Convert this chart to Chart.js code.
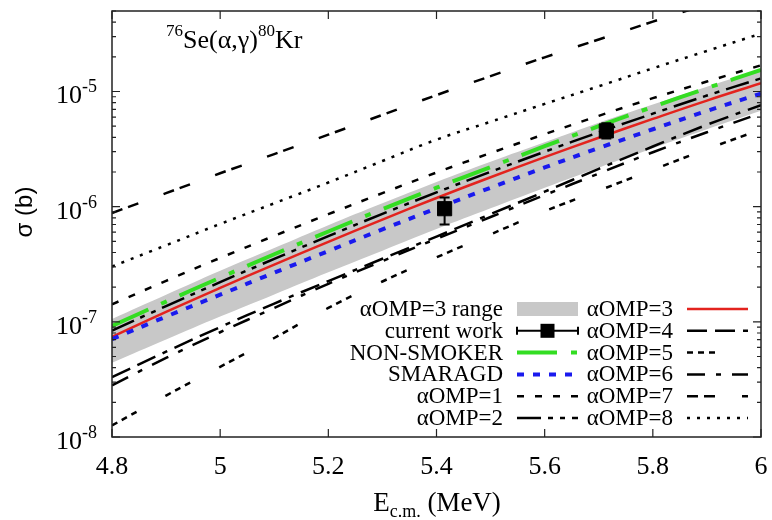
<!DOCTYPE html>
<html>
<head>
<meta charset="utf-8">
<script src="https://cdn.jsdelivr.net/npm/chart.js@4.4.0/dist/chart.umd.min.js"></script>
<style>
  html, body { margin: 0; padding: 0; background: #fff; }
  #wrap { width: 772px; height: 520px; position: relative; }
</style>
</head>
<body>
<div id="wrap"><canvas id="chart"></canvas></div>
<script>
// energies (MeV, c.m.) on which the calculated curves are read
const energies = [4.8, 4.9, 5.0, 5.1, 5.2, 5.3, 5.4, 5.5, 5.6, 5.7, 5.8, 5.9, 6.0];

// cross sections (b)
const omp1 = [1.42e-7, 2.27e-7, 3.59e-7, 5.58e-7, 8.60e-7, 1.31e-6, 1.98e-6, 2.92e-6, 4.26e-6, 6.15e-6, 8.75e-6, 1.22e-5, 1.69e-5];
const omp2 = [8.4e-8, 1.37e-7, 2.21e-7, 3.52e-7, 5.55e-7, 8.66e-7, 1.33e-6, 2.01e-6, 3.00e-6, 4.42e-6, 6.42e-6, 9.22e-6, 1.30e-5];
const omp3 = [7.40e-8, 1.22e-7, 1.97e-7, 3.14e-7, 4.95e-7, 7.73e-7, 1.19e-6, 1.80e-6, 2.69e-6, 3.97e-6, 5.78e-6, 8.34e-6, 1.18e-5];
const omp4 = [3.31e-8, 5.51e-8, 9.0e-8, 1.44e-7, 2.26e-7, 3.53e-7, 5.50e-7, 8.61e-7, 1.35e-6, 2.13e-6, 3.33e-6, 5.14e-6, 7.62e-6];
const omp5 = [1.26e-8, 2.29e-8, 4.07e-8, 7.24e-8, 1.32e-7, 2.24e-7, 3.63e-7, 5.75e-7, 9.12e-7, 1.38e-6, 2.09e-6, 3.16e-6, 4.68e-6];
const omp6 = [2.81e-8, 4.86e-8, 8.12e-8, 1.32e-7, 2.14e-7, 3.37e-7, 5.26e-7, 8.13e-7, 1.26e-6, 1.94e-6, 2.97e-6, 4.43e-6, 6.48e-6];
const omp7 = [8.81e-7, 1.31e-6, 1.95e-6, 2.86e-6, 4.22e-6, 6.27e-6, 9.31e-6, 1.36e-5, 1.98e-5, 2.83e-5, 4.04e-5, 5.71e-5, 8.07e-5];
const omp8 = [3.02e-7, 4.62e-7, 7.08e-7, 1.07e-6, 1.62e-6, 2.49e-6, 3.82e-6, 5.46e-6, 7.80e-6, 1.11e-5, 1.59e-5, 2.25e-5, 3.18e-5];
const nonSmoker = [9.21e-8, 1.50e-7, 2.42e-7, 3.86e-7, 6.09e-7, 9.51e-7, 1.46e-6, 2.21e-6, 3.35e-6, 5.00e-6, 7.36e-6, 1.07e-5, 1.54e-5];
const smaragd = [7.07e-8, 1.11e-7, 1.72e-7, 2.67e-7, 4.12e-7, 6.35e-7, 9.67e-7, 1.46e-6, 2.19e-6, 3.23e-6, 4.70e-6, 6.78e-6, 9.59e-6];
const rangeHigh = [1.06e-7, 1.72e-7, 2.78e-7, 4.38e-7, 6.91e-7, 1.07e-6, 1.64e-6, 2.46e-6, 3.63e-6, 5.36e-6, 7.71e-6, 1.10e-5, 1.56e-5];
const rangeLow = [4.41e-8, 7.02e-8, 1.11e-7, 1.73e-7, 2.69e-7, 4.15e-7, 6.39e-7, 9.67e-7, 1.46e-6, 2.18e-6, 3.21e-6, 4.69e-6, 6.79e-6];

// measured points (current work)
const expEnergy = [5.415, 5.714];
const expSigma = [9.6e-7, 4.55e-6];
const expLow = [7.0e-7, 3.9e-6];
const expHigh = [1.2e-6, 5.3e-6];

// axes
const xTicks = [4.8, 5.0, 5.2, 5.4, 5.6, 5.8, 6.0];
const xTickLabels = ['4.8', '5', '5.2', '5.4', '5.6', '5.8', '6'];
const yDecades = [-8, -7, -6, -5];

const serif = '"Liberation Serif", "Times New Roman", serif';

function pts(ys) {
  return energies.map((e, i) => ({ x: e, y: ys[i] }));
}

function curve(label, ys, color, width, dash) {
  return {
    label: label,
    data: pts(ys),
    borderColor: color,
    borderWidth: width,
    borderDash: dash,
    pointRadius: 0,
    tension: 0.4,
    fill: false,
    clip: 0
  };
}

// legend rows: [text, kind, color, width, dash]
const legendLeft = [
  ['αOMP=3 range', 'band'],
  ['current work', 'point'],
  ['NON-SMOKER', 'line', '#33dd22', 4, [40, 14, 6, 14]],
  ['SMARAGD', 'line', '#1a1aee', 4, [7, 9]],
  ['αOMP=1', 'line', '#000', 2.5, [7, 11]],
  ['αOMP=2', 'line', '#000', 2.5, [24, 7, 5, 7, 5, 7]]
];
const legendRight = [
  ['αOMP=3', 'line', '#e3231e', 2.5, []],
  ['αOMP=4', 'line', '#000', 2.5, [20, 8, 20, 8, 5, 8]],
  ['αOMP=5', 'line', '#000', 2.5, [6, 5, 6, 5, 6, 33]],
  ['αOMP=6', 'line', '#000', 2.5, [18, 11, 5, 11]],
  ['αOMP=7', 'line', '#000', 2.5, [11, 6, 11, 27]],
  ['αOMP=8', 'line', '#000', 2.5, [3, 7]]
];

function drawSample(ctx, row, x0, x1, y) {
  ctx.save();
  if (row[1] === 'band') {
    ctx.fillStyle = '#c8c8c8';
    ctx.fillRect(x0, y - 7, x1 - x0, 14);
  } else if (row[1] === 'point') {
    ctx.strokeStyle = '#000';
    ctx.lineWidth = 2;
    ctx.beginPath();
    ctx.moveTo(x0, y); ctx.lineTo(x1, y);
    ctx.moveTo(x0, y - 4); ctx.lineTo(x0, y + 4);
    ctx.moveTo(x1, y - 4); ctx.lineTo(x1, y + 4);
    ctx.stroke();
    ctx.fillStyle = '#000';
    const m = (x0 + x1) / 2;
    ctx.fillRect(m - 7, y - 7, 14, 14);
  } else {
    ctx.strokeStyle = row[2];
    ctx.lineWidth = row[3];
    ctx.setLineDash(row[4]);
    ctx.beginPath();
    ctx.moveTo(x0, y); ctx.lineTo(x1, y);
    ctx.stroke();
  }
  ctx.restore();
}

const decorations = {
  id: 'decorations',
  afterDatasetsDraw(chart) {
    const ctx = chart.ctx;
    const xs = chart.scales.x, ys = chart.scales.y;
    // error bars
    ctx.save();
    ctx.strokeStyle = '#000';
    ctx.lineWidth = 2;
    expEnergy.forEach((e, i) => {
      const px = xs.getPixelForValue(e);
      const lo = ys.getPixelForValue(expLow[i]);
      const hi = ys.getPixelForValue(expHigh[i]);
      ctx.beginPath();
      ctx.moveTo(px, lo); ctx.lineTo(px, hi);
      ctx.moveTo(px - 5, lo); ctx.lineTo(px + 5, lo);
      ctx.moveTo(px - 5, hi); ctx.lineTo(px + 5, hi);
      ctx.stroke();
    });
    ctx.restore();
  },
  afterDraw(chart) {
    const ctx = chart.ctx;
    const a = chart.chartArea;
    const xs = chart.scales.x, ys = chart.scales.y;
    ctx.save();

    // legend (opaque box)
    ctx.fillStyle = '#fff';
    ctx.fillRect(356, 297, a.right - 357, a.bottom - 298);
    ctx.font = '23px ' + serif;
    ctx.fillStyle = '#000';
    ctx.textAlign = 'right';
    ctx.textBaseline = 'middle';
    legendLeft.forEach((row, i) => {
      const y = 309 + i * 21.8;
      ctx.fillText(row[0], 503, y + 1);
      drawSample(ctx, row, 517, 578, y);
    });
    legendRight.forEach((row, i) => {
      const y = 309 + i * 21.8;
      ctx.fillText(row[0], 673, y + 1);
      drawSample(ctx, row, 687, 748, y);
    });

    // frame
    ctx.strokeStyle = '#222';
    ctx.lineWidth = 1.5;
    ctx.strokeRect(a.left, a.top, a.right - a.left, a.bottom - a.top);

    // ticks (inward, mirrored)
    ctx.lineWidth = 1.2;
    ctx.beginPath();
    xTicks.forEach(v => {
      const px = xs.getPixelForValue(v);
      ctx.moveTo(px, a.bottom); ctx.lineTo(px, a.bottom - 8);
      ctx.moveTo(px, a.top); ctx.lineTo(px, a.top + 8);
    });
    for (let d = -8; d <= -5; d++) {
      for (let m = 1; m <= 9; m++) {
        const v = m * Math.pow(10, d);
        if (v > ys.max * 1.0001) continue;
        const py = ys.getPixelForValue(v);
        const len = m === 1 ? 8 : 4;
        ctx.moveTo(a.left, py); ctx.lineTo(a.left + len, py);
        ctx.moveTo(a.right, py); ctx.lineTo(a.right - len, py);
      }
    }
    ctx.stroke();

    // x tick labels
    ctx.fillStyle = '#000';
    ctx.font = '26px ' + serif;
    ctx.textAlign = 'center';
    ctx.textBaseline = 'alphabetic';
    xTicks.forEach((v, i) => {
      ctx.fillText(xTickLabels[i], xs.getPixelForValue(v), 474);
    });

    // y tick labels 10^n
    yDecades.forEach(d => {
      const py = ys.getPixelForValue(Math.pow(10, d));
      const exp = String(d);
      ctx.font = '18px ' + serif;
      const ew = ctx.measureText(exp).width;
      ctx.font = '26px ' + serif;
      const bw = ctx.measureText('10').width;
      const right = 97;
      ctx.textAlign = 'left';
      ctx.fillText('10', right - ew - bw, py + 12);
      ctx.font = '18px ' + serif;
      ctx.fillText(exp, right - ew, py + 1);
    });

    // axis titles
    ctx.textAlign = 'left';
    ctx.font = '18px ' + serif;
    const w2 = ctx.measureText('c.m.').width;
    ctx.font = '27px ' + serif;
    const w1 = ctx.measureText('E').width, w3 = ctx.measureText(' (MeV)').width;
    const tx = 437 - (w1 + w2 + w3) / 2;
    ctx.fillText('E', tx, 511);
    ctx.font = '18px ' + serif;
    ctx.fillText('c.m.', tx + w1, 517);
    ctx.font = '27px ' + serif;
    ctx.fillText(' (MeV)', tx + w1 + w2, 511);

    ctx.save();
    ctx.translate(32, 212);
    ctx.rotate(-Math.PI / 2);
    ctx.textAlign = 'center';
    ctx.font = '24px "Liberation Sans", Arial, sans-serif';
    ctx.fillText('σ (b)', 0, 0);
    ctx.restore();

    // reaction label
    const parts = [['76', 17, -12], ['Se(α,γ)', 26, 0], ['80', 17, -12], ['Kr', 26, 0]];
    let rx = 166;
    parts.forEach(p => {
      ctx.font = p[1] + 'px ' + serif;
      ctx.fillText(p[0], rx, 48 + p[2]);
      rx += ctx.measureText(p[0]).width;
    });

    ctx.restore();
  }
};

new Chart(document.getElementById('chart'), {
  type: 'line',
  data: {
    datasets: [
      {
        label: 'current work',
        data: expEnergy.map((e, i) => ({ x: e, y: expSigma[i] })),
        showLine: false,
        pointStyle: 'rect',
        pointRadius: 10,
        pointBackgroundColor: '#000',
        pointBorderColor: '#000',
        borderColor: '#000',
        clip: false
      },
      curve('αOMP=8', omp8, '#000', 2.5, [3, 7]),
      curve('αOMP=7', omp7, '#000', 2.5, [11, 6, 11, 27]),
      curve('αOMP=6', omp6, '#000', 2.5, [18, 11, 5, 11]),
      curve('αOMP=5', omp5, '#000', 2.5, [6, 5, 6, 5, 6, 33]),
      curve('αOMP=4', omp4, '#000', 2.5, [20, 8, 20, 8, 5, 8]),
      curve('αOMP=1', omp1, '#000', 2.5, [7, 11]),
      curve('SMARAGD', smaragd, '#1a1aee', 4, [7, 9]),
      curve('αOMP=3', omp3, '#e3231e', 2.5, []),
      curve('αOMP=2', omp2, '#000', 2.5, [24, 7, 5, 7, 5, 7]),
      curve('NON-SMOKER', nonSmoker, '#33dd22', 4, [40, 14, 6, 14]),
      {
        label: 'range high',
        data: pts(rangeHigh),
        borderWidth: 0,
        pointRadius: 0,
        tension: 0.4,
        fill: false
      },
      {
        label: 'αOMP=3 range',
        data: pts(rangeLow),
        borderWidth: 0,
        pointRadius: 0,
        tension: 0.4,
        backgroundColor: '#c8c8c8',
        fill: '-1'
      }
    ]
  },
  options: {
    responsive: true,
    maintainAspectRatio: false,
    animation: false,
    layout: { padding: { left: 112, top: 7, right: 10, bottom: 83 } },
    plugins: { legend: { display: false }, tooltip: { enabled: false } },
    scales: {
      x: { type: 'linear', min: 4.8, max: 6.0, display: false },
      y: { type: 'logarithmic', min: 1e-8, max: 5e-5, display: false }
    }
  },
  plugins: [decorations]
});
</script>
</body>
</html>
